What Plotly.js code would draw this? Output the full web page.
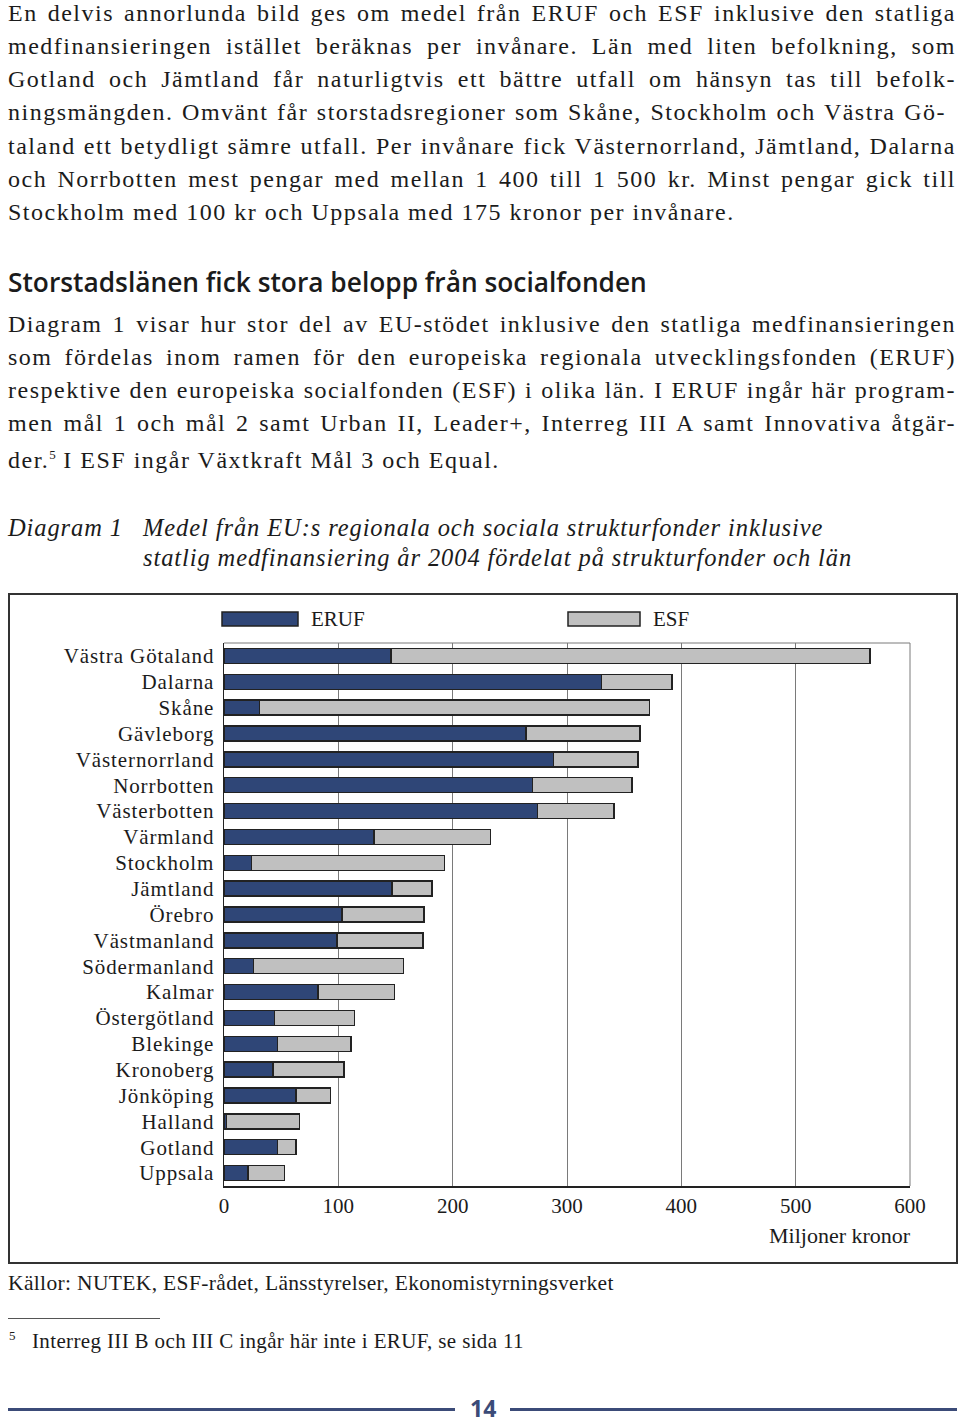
<!DOCTYPE html>
<html><head><meta charset="utf-8">
<script src="https://cdn.plot.ly/plotly-3.0.1.min.js"></script>
<style>
body{margin:0;width:960px;height:1424px;position:relative;background:#fff;color:#1b1b1b;font-family:"Liberation Serif",serif;overflow:hidden}
.ln{position:absolute;left:8px;width:948px;font-size:24px;line-height:33px;text-align:justify;text-align-last:justify;letter-spacing:1.5px}
.ln.last{text-align:left;text-align-last:left}
.ln sup{font-size:13px;line-height:0;vertical-align:9px;letter-spacing:0}
#head{position:absolute;left:8px;top:264px;font-family:"Open Sans",sans-serif;font-weight:600;font-size:26.3px;line-height:36px;white-space:nowrap}
.cap{position:absolute;font-style:italic;font-size:24.5px;line-height:30px;white-space:nowrap;letter-spacing:0.9px}
#chartbox{position:absolute;left:8px;top:593px;width:950px;height:671px}
#chartbox .ytick text{letter-spacing:0.9px}
#frame{position:absolute;left:8px;top:593px;width:946px;height:667px;border:2px solid #333;pointer-events:none}
#src{position:absolute;left:8px;top:1269px;font-size:21.5px;line-height:28px;white-space:nowrap;letter-spacing:0.35px}
#fnline{position:absolute;left:8px;top:1318px;width:152px;height:1px;background:#555}
#fn5{position:absolute;left:9px;top:1328px;font-size:13px;line-height:16px}
#fn{position:absolute;left:32px;top:1327px;font-size:21px;line-height:28px;white-space:nowrap;letter-spacing:0.36px}
.pl{position:absolute;top:1408px;height:3px;background:#3b4b78}
#pn{position:absolute;left:470px;top:1393px;font-family:"Open Sans",sans-serif;font-weight:700;font-size:23px;line-height:30px;color:#3b4b78}
</style></head>
<body>
<div class="ln" style="top:-3px">En delvis annorlunda bild ges om medel från ERUF och ESF inklusive den statliga</div>
<div class="ln" style="top:30px">medfinansieringen istället beräknas per invånare. Län med liten befolkning, som</div>
<div class="ln" style="top:63px">Gotland och Jämtland får naturligtvis ett bättre utfall om hänsyn tas till befolk-</div>
<div class="ln" style="top:96px;width:938px">ningsmängden. Omvänt får storstadsregioner som Skåne, Stockholm och Västra Gö-</div>
<div class="ln" style="top:130px">taland ett betydligt sämre utfall. Per invånare fick Västernorrland, Jämtland, Dalarna</div>
<div class="ln" style="top:163px">och Norrbotten mest pengar med mellan 1 400 till 1 500 kr. Minst pengar gick till</div>
<div class="ln last" style="top:196px">Stockholm med 100 kr och Uppsala med 175 kronor per invånare.</div>

<div id="head">Storstadslänen fick stora belopp från socialfonden</div>

<div class="ln" style="top:308px">Diagram 1 visar hur stor del av EU-stödet inklusive den statliga medfinansieringen</div>
<div class="ln" style="top:341px">som fördelas inom ramen för den europeiska regionala utvecklingsfonden (ERUF)</div>
<div class="ln" style="top:374px">respektive den europeiska socialfonden (ESF) i olika län. I ERUF ingår här program-</div>
<div class="ln" style="top:407px">men mål 1 och mål 2 samt Urban II, Leader+, Interreg III A samt Innovativa åtgär-</div>
<div class="ln last" style="top:444px">der.<sup>5</sup> I ESF ingår Växtkraft Mål 3 och Equal.</div>

<div class="cap" style="left:8px;top:513px">Diagram 1</div>
<div class="cap" style="left:143px;top:513px">Medel från EU:s regionala och sociala strukturfonder inklusive</div>
<div class="cap" style="left:143px;top:543px">statlig medfinansiering år 2004 fördelat på strukturfonder och län</div>

<div id="chartbox"></div>
<div id="frame"></div>

<div id="src">Källor: NUTEK, ESF-rådet, Länsstyrelser, Ekonomistyrningsverket</div>
<div id="fnline"></div>
<div id="fn5">5</div>
<div id="fn">Interreg III B och III C ingår här inte i ERUF, se sida 11</div>

<div class="pl" style="left:8px;width:447px"></div>
<div id="pn">14</div>
<div class="pl" style="left:510px;width:447px"></div>

<script>
var categories = ["Västra Götaland","Dalarna","Skåne","Gävleborg","Västernorrland","Norrbotten","Västerbotten","Värmland","Stockholm","Jämtland","Örebro","Västmanland","Södermanland","Kalmar","Östergötland","Blekinge","Kronoberg","Jönköping","Halland","Gotland","Uppsala"];
var eruf = [146,330,31,264,288,270,274,131,24,147,103,99,26,82,44,47,43,63,2,47,21];
var esf  = [419,62,341,100,74,87,67,102,169,35,72,75,131,67,70,64,62,30,64,16,32];
var seriesNames = ["ERUF","ESF"];
var xTicks = [0,100,200,300,400,500,600];
var xTitle = "Miljoner kronor";

var navy = "#2f4677", grey = "#c0c0c0", edge = "#222";
var serif = "Liberation Serif, serif";

var traces = [
  {type:"bar", orientation:"h", name:seriesNames[0], y:categories, x:eruf,
   marker:{color:navy, line:{color:edge, width:1.5}}, hoverinfo:"skip"},
  {type:"bar", orientation:"h", name:seriesNames[1], y:categories, x:esf,
   marker:{color:grey, line:{color:edge, width:1.5}}, hoverinfo:"skip"}
];

function px(x){return (x-224)/686;}
function py(y){return (1186-y)/543;}

var layout = {
  width:950, height:671,
  margin:{l:216, r:48, t:50, b:78, pad:0},
  paper_bgcolor:"rgba(0,0,0,0)", plot_bgcolor:"#fff",
  barmode:"stack", bargap:0.42, showlegend:false,
  font:{family:serif, size:21, color:"#1b1b1b"},
  xaxis:{range:[0,600], tickvals:xTicks, ticktext:xTicks.map(String), showgrid:true, gridcolor:"#7a7a7a", gridwidth:1,
         zeroline:false, showline:true, linecolor:"#222", linewidth:1.5, ticks:"", ticklabelstandoff:0,
         tickfont:{family:serif, size:21, color:"#1b1b1b"}, fixedrange:true},
  yaxis:{type:"category", categoryorder:"array", categoryarray:categories, autorange:"reversed",
         showgrid:false, zeroline:false, showline:true, linecolor:"#222", linewidth:1.5, ticks:"",
         ticklabelstandoff:4, tickfont:{family:serif, size:21, color:"#1b1b1b"}, fixedrange:true},
  shapes:[
    {type:"line", xref:"paper", yref:"paper", x0:0, x1:1, y0:1, y1:1, line:{color:"#7a7a7a", width:1}},
    {type:"line", xref:"paper", yref:"paper", x0:1, x1:1, y0:0, y1:1, line:{color:"#7a7a7a", width:1}},
    {type:"rect", xref:"paper", yref:"paper", x0:px(222), x1:px(298), y0:py(626), y1:py(612), fillcolor:navy, line:{color:edge, width:1.5}},
    {type:"rect", xref:"paper", yref:"paper", x0:px(568), x1:px(640), y0:py(626), y1:py(612), fillcolor:grey, line:{color:edge, width:1.5}}
  ],
  annotations:[
    {xref:"paper", yref:"paper", x:px(309), y:py(619), xanchor:"left", yanchor:"middle", text:seriesNames[0], showarrow:false, font:{family:serif, size:21}},
    {xref:"paper", yref:"paper", x:px(651), y:py(619), xanchor:"left", yanchor:"middle", text:seriesNames[1], showarrow:false, font:{family:serif, size:21}},
    {xref:"paper", yref:"paper", x:1, y:0, xanchor:"right", yanchor:"top", yshift:-35, xshift:3, text:xTitle, showarrow:false, font:{family:serif, size:22}}
  ]
};
Plotly.newPlot("chartbox", traces, layout, {staticPlot:true, displayModeBar:false});
</script>
</body></html>
